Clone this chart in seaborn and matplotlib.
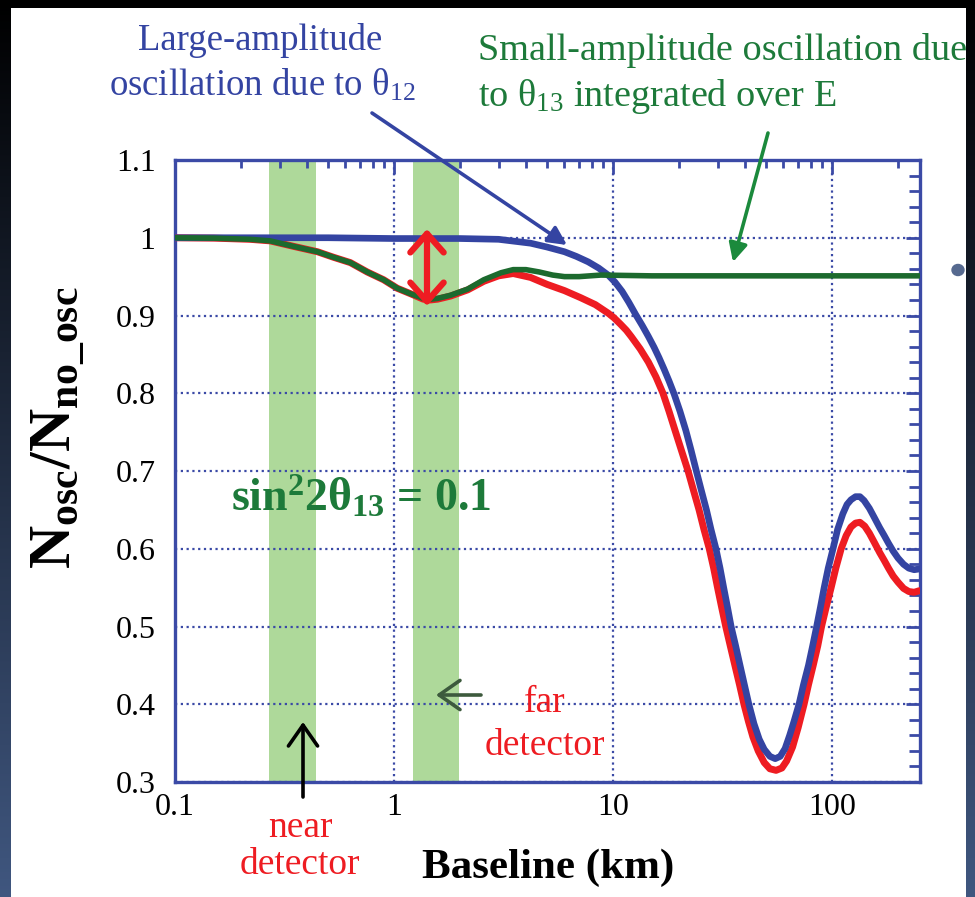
import numpy as np
import pandas as pd
import matplotlib
matplotlib.use("Agg")
import matplotlib.pyplot as plt
import seaborn as sns
from matplotlib.patches import FancyArrowPatch, Circle
from matplotlib.ticker import FixedLocator, LogLocator, NullFormatter, MultipleLocator

# ---------------- data ----------------
green_x = [0.1, 0.15, 0.22, 0.272, 0.347, 0.447, 0.528, 0.632, 0.754, 0.896, 1.035, 1.19,
           1.36, 1.47, 1.58, 1.81, 2.17, 2.57, 3.08, 3.5, 4.0, 4.6, 5.3, 6.0, 7.0, 8.8, 15,
           30, 60, 120, 250]
green_y = [1.0, 0.9995, 0.998, 0.996, 0.989, 0.982, 0.975, 0.968, 0.956, 0.946, 0.935, 0.928,
           0.922, 0.921, 0.922, 0.926, 0.934, 0.946, 0.955, 0.959, 0.959, 0.956, 0.952, 0.950,
           0.950, 0.952, 0.951, 0.951, 0.951, 0.951, 0.951]

red_x = [0.1, 0.15, 0.22, 0.272, 0.347, 0.447, 0.528, 0.632, 0.754, 0.896, 1.035, 1.19,
         1.36, 1.47, 1.58, 1.81, 2.17, 2.57, 3.0, 3.5, 4.2, 5.0, 6.0, 7.1, 8.3, 9.5, 10.1,
         10.8, 11.5, 12.1, 13.3, 14.5, 15.7, 16.9, 18, 19.3, 20.6, 22, 23.3, 24.7, 26, 27.5,
         28.8, 30, 31.3, 32.7, 34.3, 36, 37.8, 39.6, 41.5, 43.5, 46, 49, 52, 55.5, 59, 62,
         66, 70, 74.5, 78, 82, 86, 89.5, 94, 99, 104, 110, 116, 122, 128, 134, 141, 148,
         156, 165, 173, 181, 190, 200, 212, 224, 237, 250]
red_y = [1.0, 0.9995, 0.998, 0.996, 0.989, 0.982, 0.975, 0.968, 0.956, 0.946, 0.935, 0.928,
         0.921, 0.920, 0.921, 0.925, 0.933, 0.944, 0.951, 0.954, 0.949, 0.940, 0.932, 0.923,
         0.914, 0.903, 0.897, 0.889, 0.881, 0.873, 0.857, 0.840, 0.821, 0.800, 0.777, 0.750,
         0.725, 0.700, 0.675, 0.650, 0.625, 0.600, 0.575, 0.550, 0.525, 0.500, 0.475, 0.450,
         0.425, 0.400, 0.378, 0.358, 0.340, 0.325, 0.317, 0.315, 0.318, 0.327, 0.345, 0.370,
         0.400, 0.425, 0.450, 0.475, 0.500, 0.525, 0.550, 0.575, 0.600, 0.617, 0.628, 0.633,
         0.634, 0.629, 0.620, 0.608, 0.595, 0.585, 0.575, 0.565, 0.557, 0.549, 0.545, 0.544,
         0.546]

blue_x = [0.1, 0.5, 1.0, 2.0, 3.0, 4.2, 5.0, 6.0, 6.8, 7.7, 8.6, 9.5, 10.2, 11.0, 11.8,
          12.7, 13.6, 14.5, 15.4, 16.2, 17.1, 18.0, 19.0, 20.2, 21.5, 22.7, 24.0, 25.3, 26.7,
          28.0, 29.5, 30.8, 32.0, 33.3, 34.6, 36.3, 38.0, 39.8, 41.7, 44, 46.5, 49, 52, 55,
          58, 61, 64, 67, 70.6, 74, 78, 81.5, 85, 88.5, 92, 96, 101, 106, 112, 117, 122, 128,
          134, 140, 148, 156, 165, 173, 181, 190, 200, 212, 224, 237, 250]
blue_y = [1.0, 1.0, 0.999, 0.999, 0.998, 0.993, 0.988, 0.982, 0.976, 0.969, 0.961, 0.952,
          0.943, 0.931, 0.917, 0.901, 0.887, 0.873, 0.859, 0.846, 0.831, 0.816, 0.799, 0.777,
          0.752, 0.727, 0.700, 0.675, 0.650, 0.625, 0.600, 0.575, 0.550, 0.525, 0.500, 0.475,
          0.450, 0.425, 0.400, 0.375, 0.355, 0.342, 0.333, 0.330, 0.333, 0.343, 0.360, 0.378,
          0.400, 0.425, 0.450, 0.475, 0.500, 0.525, 0.550, 0.575, 0.600, 0.625, 0.645, 0.657,
          0.663, 0.667, 0.667, 0.662, 0.652, 0.640, 0.627, 0.617, 0.607, 0.597, 0.588, 0.580,
          0.575, 0.573, 0.574]

near_band = [0.27, 0.44]
far_band = [1.22, 1.97]

x_ticks = [0.1, 1, 10, 100]
x_tick_labels = ["0.1", "1", "10", "100"]
y_ticks = [0.3, 0.4, 0.5, 0.6, 0.7, 0.8, 0.9, 1.0, 1.1]
y_tick_labels = ["0.3", "0.4", "0.5", "0.6", "0.7", "0.8", "0.9", "1", "1.1"]

# ---------------- style ----------------
sns.set_style("white")
plt.rcParams["font.family"] = ["Liberation Serif", "DejaVu Serif"]
plt.rcParams["mathtext.fontset"] = "custom"
plt.rcParams["mathtext.rm"] = "Liberation Serif"
plt.rcParams["mathtext.it"] = "Liberation Serif:italic"
plt.rcParams["mathtext.bf"] = "Liberation Serif:bold"

BLUE = "#3444a2"
FRAME = "#3b4aa6"
RED = "#ee1c22"
GREEN = "#1c6a2e"
TXTGREEN = "#1d7a3a"
BAND = "#aed99a"

W, H = 975, 897
fig = plt.figure(figsize=(W / 100, H / 100), dpi=100)
fig.patch.set_facecolor("white")


def P(x, y):
    return (x / W, 1 - y / H)


ax = fig.add_axes([175 / W, (H - 782) / H, 745 / W, 622 / H])
ax.set_facecolor("white")
ax.set_xscale("log")
ax.set_xlim(0.1, 252)
ax.set_ylim(0.3, 1.1)

# bands
for b in (near_band, far_band):
    ax.axvspan(b[0], b[1], color=BAND, lw=0, zorder=0.5)

# grid
ax.grid(True, which="major", color=FRAME, linestyle=(0, (1, 1.6)), lw=1.6, zorder=0.8)
ax.set_axisbelow(False)

# curves
sns.lineplot(x=red_x, y=red_y, ax=ax, color=RED, lw=5.0, sort=False, estimator=None, zorder=3)
sns.lineplot(x=blue_x, y=blue_y, ax=ax, color=BLUE, lw=4.8, sort=False, estimator=None, zorder=4)
sns.lineplot(x=green_x, y=green_y, ax=ax, color=GREEN, lw=4.0, sort=False, estimator=None, zorder=5)

# ticks
ax.xaxis.set_major_locator(FixedLocator(x_ticks))
ax.set_xticklabels(x_tick_labels)
ax.xaxis.set_minor_locator(LogLocator(base=10, subs=np.arange(2, 10)))
ax.xaxis.set_minor_formatter(NullFormatter())
ax.set_yticks(y_ticks)
ax.set_yticklabels(y_tick_labels)
ax.yaxis.set_minor_locator(MultipleLocator(0.02))
ax.tick_params(which="both", direction="in", top=True, right=True, color=FRAME,
               labelsize=23, labelcolor="black")
ax.tick_params(axis="x", which="major", length=10, width=2, pad=8)
ax.tick_params(axis="x", which="minor", length=6, width=2)
ax.tick_params(axis="y", which="major", length=10, width=2, pad=14)
ax.tick_params(axis="y", which="minor", length=8, width=2)
for s in ax.spines.values():
    s.set_color(FRAME)
    s.set_linewidth(2.4)
ax.set_xlabel("")
ax.set_ylabel("")

# axis labels
fig.text(*P(548, 868), "Baseline (km)", ha="center", va="center", fontsize=31,
         fontweight="bold", color="black")
fig.text(*P(58, 428), r"N$_{\mathbf{osc}}$/N$_{\mathbf{no\_osc}}$", ha="center", va="center",
         fontsize=43, fontweight="bold", rotation=90, color="black")

# titles / annotations
fig.text(*P(260, 40), "Large-amplitude", ha="center", va="center", fontsize=26.5, color=BLUE)
fig.text(*P(262, 85), "oscillation due to θ$_{12}$", ha="center", va="center", fontsize=26.5,
         color=BLUE)
fig.text(*P(478, 50), "Small-amplitude oscillation due", ha="left", va="center", fontsize=27.5,
         color=TXTGREEN)
fig.text(*P(478, 97), "to θ$_{13}$ integrated over E", ha="left", va="center", fontsize=27.5,
         color=TXTGREEN)

fig.text(*P(361, 497), r"sin$^{\mathbf{2}}$2θ$_{\mathbf{13}}$ = 0.1", ha="center", va="center",
         fontsize=33, fontweight="bold", color=TXTGREEN, zorder=6)

fig.text(*P(300, 828), "near", ha="center", va="center", fontsize=27, color=RED)
fig.text(*P(300, 865), "detector", ha="center", va="center", fontsize=27, color=RED)
fig.text(*P(545, 703), "far", ha="center", va="center", fontsize=27, color=RED, zorder=6)
fig.text(*P(545, 746), "detector", ha="center", va="center", fontsize=27, color=RED, zorder=6)

# arrows
arrows = [
    (P(372, 113), P(567, 245), BLUE, "-|>", 2.6, 28),
    (P(768, 133), P(733, 262), "#1b8a3c", "-|>", 2.6, 28),
    (P(303, 797), P(303, 722), "black", "->,head_length=0.5,head_width=0.35", 2.6, 30),
    (P(481, 695), P(436, 695), "#3d5a3d", "->,head_length=0.5,head_width=0.35", 2.6, 30),
]
for a, b, c, st, lw, ms in arrows:
    fig.add_artist(FancyArrowPatch(a, b, transform=fig.transFigure, arrowstyle=st, color=c,
                                   lw=lw, mutation_scale=ms, shrinkA=0, shrinkB=0, zorder=6))
fig.add_artist(FancyArrowPatch(P(427, 229), P(427, 306), transform=fig.transFigure,
                               arrowstyle="<->,head_length=0.45,head_width=0.4", color=RED,
                               lw=4.5, mutation_scale=30, shrinkA=0, shrinkB=0, zorder=7))

# slide bullet
fig.add_artist(Circle(P(958, 270), 6 / W, transform=fig.transFigure, color="#56698f", zorder=8))

# slide border overlay
img = np.zeros((H, W, 4))
t = np.linspace(0, 1, H)[:, None, None]
top = np.array([0.0, 0.0, 0.0])
bot = np.array([0.25, 0.34, 0.50])
grad = (1 - t) * top + t * bot
img[:, :11, :3] = grad
img[:, :11, 3] = 1
img[:, 966:, :3] = grad
img[:, 966:, 3] = 1
img[:8, :, :3] = 0
img[:8, :, 3] = 1
ov = fig.add_axes([0, 0, 1, 1], zorder=20)
ov.imshow(img, aspect="auto", extent=(0, W, H, 0), interpolation="bilinear")
ov.set_axis_off()

fig.savefig("out.png", dpi=100)
